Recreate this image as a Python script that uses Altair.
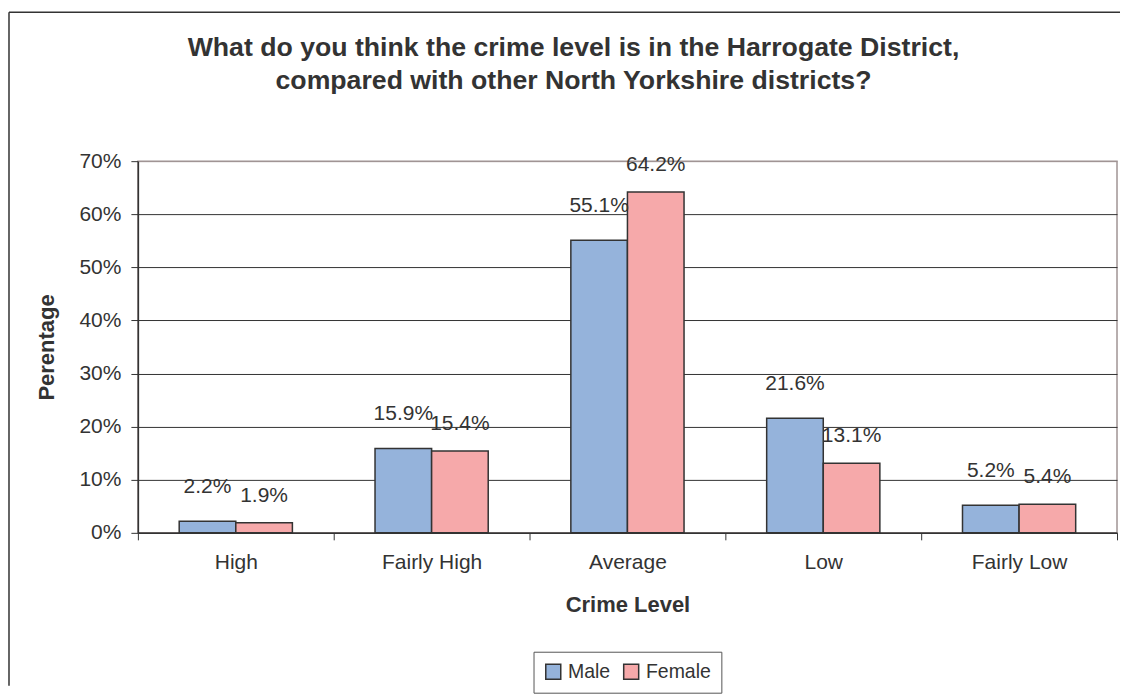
import altair as alt
import pandas as pd

categories = ["High", "Fairly High", "Average", "Low", "Fairly Low"]
male = [2.2, 15.9, 55.1, 21.6, 5.2]
female = [1.9, 15.4, 64.2, 13.1, 5.4]
series = ["Male", "Female"]
colors = ["#95B3DB", "#F6A9AA"]
y_ticks = [0, 10, 20, 30, 40, 50, 60, 70]
title_lines = [
    "What do you think the crime level is in the Harrogate District,",
    "compared with other North Yorkshire districts?",
]

rows = []
for c, m, f in zip(categories, male, female):
    rows.append({"cat": c, "gender": "Male", "val": m, "lab": f"{m:.1f}%"})
    rows.append({"cat": c, "gender": "Female", "val": f, "lab": f"{f:.1f}%"})
df = pd.DataFrame(rows)

FONT = "Liberation Sans"
DARK = "#333333"

x_enc = alt.X(
    "cat:N", sort=categories,
    scale=alt.Scale(paddingInner=0, paddingOuter=0),
    axis=alt.Axis(
        title="Crime Level", tickBand="extent", tickSize=7, labelPadding=12,
        labelAngle=0, titlePadding=22, domainColor=DARK, tickColor=DARK,
        domainWidth=1.5,
    ),
)
xo_enc = alt.XOffset(
    "gender:N", sort=series,
    scale=alt.Scale(paddingInner=0, paddingOuter=0.73),
)
y_enc = alt.Y(
    "val:Q",
    scale=alt.Scale(domain=[0, 70], nice=False),
    axis=alt.Axis(
        title="Perentage", values=y_ticks, labelExpr="datum.value + '%'",
        tickSize=7, labelPadding=10, titlePadding=20,
        grid=True,
        gridColor={"condition": {"test": "datum.value == 70", "value": "#A09494"}, "value": DARK},
        gridWidth=1,
        domainColor=DARK, tickColor=DARK, domainWidth=1.5,
    ),
)

bars = alt.Chart(df).mark_bar(stroke=DARK, strokeWidth=1.5).encode(
    x=x_enc, xOffset=xo_enc, y=y_enc,
    color=alt.Color(
        "gender:N", sort=series,
        scale=alt.Scale(domain=series, range=colors),
        legend=alt.Legend(
            title=None, orient="none", legendX=396, legendY=491,
            direction="horizontal", symbolType="square", symbolSize=225,
            symbolStrokeColor=DARK, symbolStrokeWidth=1.5,
            labelFontSize=19.5, labelFont=FONT, labelColor=DARK,
            strokeColor="#555555", padding=10, columnPadding=10, labelOffset=5,
        ),
    ),
)

lab_m = alt.Chart(df).transform_filter("datum.gender == 'Male'").mark_text(
    dy=-34, fontSize=21, font=FONT, color=DARK
).encode(x=x_enc, xOffset=xo_enc, y=y_enc, text="lab:N")

lab_f = alt.Chart(df).transform_filter("datum.gender == 'Female'").mark_text(
    dy=-27, fontSize=21, font=FONT, color=DARK
).encode(x=x_enc, xOffset=xo_enc, y=y_enc, text="lab:N")

one = pd.DataFrame({"a": [0]})
frame_top = alt.Chart(one).mark_rule(stroke=DARK, strokeWidth=1.5).encode(
    x=alt.value(-129), x2=alt.value(983), y=alt.value(-149)
)
frame_left = alt.Chart(one).mark_rule(stroke=DARK, strokeWidth=1.5).encode(
    x=alt.value(-129), y=alt.value(-149), y2=alt.value(525)
)

title1 = alt.Chart(one).mark_text(
    text=title_lines[0], fontSize=26.7, font=FONT, fontWeight="bold", color=DARK,
    align="center", baseline="middle",
).encode(x=alt.value(436), y=alt.value(-113))
title2 = alt.Chart(one).mark_text(
    text=title_lines[1], fontSize=26.7, font=FONT, fontWeight="bold", color=DARK,
    align="center", baseline="middle",
).encode(x=alt.value(436), y=alt.value(-80))

chart = alt.layer(frame_top, frame_left, title1, title2, bars, lab_m, lab_f).properties(
    width=980, height=372,
    padding={"left": 0, "top": 3, "right": 0, "bottom": 0},
).configure_view(
    stroke="#A09494", strokeWidth=1.5
).configure_axis(
    labelFont=FONT, labelFontSize=21, labelColor=DARK,
    titleFont=FONT, titleFontSize=22, titleFontWeight="bold", titleColor=DARK,
)

chart.save("out.html", embed_options={"renderer": "svg", "actions": False})
